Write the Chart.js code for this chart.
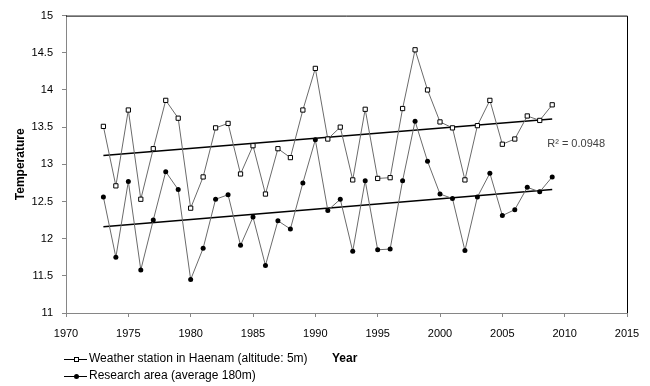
<!DOCTYPE html>
<html>
<head>
<meta charset="utf-8">
<script src="https://cdn.jsdelivr.net/npm/chart.js@4.4.0/dist/chart.umd.min.js"></script>
<style>
  html, body { margin: 0; padding: 0; background: #fff; }
  #wrap { width: 650px; height: 386px; }
</style>
</head>
<body>
<div id="wrap"><canvas id="chart" width="650" height="386"></canvas></div>
<script>
const years = [1973, 1974, 1975, 1976, 1977, 1978, 1979, 1980, 1981, 1982, 1983, 1984, 1985,
  1986, 1987, 1988, 1989, 1990, 1991, 1992, 1993, 1994, 1995, 1996, 1997, 1998, 1999, 2000,
  2001, 2002, 2003, 2004, 2005, 2006, 2007, 2008, 2009];

const haenam = [13.51, 12.71, 13.73, 12.53, 13.21, 13.86, 13.62, 12.41, 12.83, 13.49, 13.55, 12.87, 13.25,
  12.60, 13.21, 13.09, 13.73, 14.29, 13.34, 13.50, 12.79, 13.74, 12.81, 12.82, 13.75, 14.54, 14.00, 13.57,
  13.49, 12.79, 13.52, 13.86, 13.27, 13.34, 13.65, 13.59, 13.80];

const research = [12.56, 11.75, 12.77, 11.58, 12.25, 12.90, 12.66, 11.45, 11.87, 12.53, 12.59, 11.91, 12.29,
  11.64, 12.24, 12.13, 12.75, 13.33, 12.38, 12.53, 11.83, 12.78, 11.85, 11.86, 12.78, 13.58, 13.04, 12.60,
  12.54, 11.84, 12.56, 12.88, 12.31, 12.39, 12.69, 12.63, 12.83];

// trend line end points
const trendYears = [1973, 2009];
const haenamTrend = [13.12, 13.61];
const researchTrend = [12.16, 12.66];

const seriesNames = ["Weather station in Haenam (altitude: 5m)", "Research area (average 180m)"];
const r2Label = "R\u00B2 = 0.0948";

const FONT = "'Liberation Sans', Arial, sans-serif";

function pts(xs, ys) {
  return xs.map((x, i) => ({ x: x, y: ys[i] }));
}

const extras = {
  id: "extras",
  afterDraw(chart) {
    const ctx = chart.ctx;
    const a = chart.chartArea;
    const xs = chart.scales.x;
    const ys = chart.scales.y;
    ctx.save();

    // black frame on top and right
    ctx.strokeStyle = "#000";
    ctx.lineWidth = 1;
    ctx.beginPath();
    ctx.moveTo(a.left, a.top + 0.5);
    ctx.lineTo(a.right + 0.5, a.top + 0.5);
    ctx.lineTo(a.right + 0.5, a.bottom);
    ctx.stroke();

    // R² label
    ctx.fillStyle = "#404040";
    ctx.font = "11px " + FONT;
    ctx.textBaseline = "middle";
    ctx.fillText(r2Label, xs.getPixelForValue(2008.6), ys.getPixelForValue(13.27));

    // legend
    const rows = [359, 376];
    rows.forEach((y, i) => {
      ctx.strokeStyle = "#000";
      ctx.lineWidth = 1;
      ctx.beginPath();
      ctx.moveTo(64, y + 0.5);
      ctx.lineTo(87, y + 0.5);
      ctx.stroke();
      if (i === 0) {
        ctx.fillStyle = "#fff";
        ctx.fillRect(74, y - 2, 5, 5);
        ctx.strokeRect(74.5, y - 1.5, 4, 4);
      } else {
        ctx.fillStyle = "#000";
        ctx.beginPath();
        ctx.arc(76.5, y + 0.5, 2.5, 0, Math.PI * 2);
        ctx.fill();
      }
      ctx.fillStyle = "#000";
      ctx.font = "12px " + FONT;
      ctx.textBaseline = "middle";
      ctx.fillText(seriesNames[i], 89, y);
    });

    // x axis title
    ctx.font = "bold 12px " + FONT;
    ctx.fillText("Year", 332, 359);
    ctx.restore();
  }
};

new Chart(document.getElementById("chart"), {
  type: "line",
  data: {
    datasets: [
      {
        label: seriesNames[0],
        data: pts(years, haenam),
        borderColor: "#6b6b6b",
        borderWidth: 1,
        pointStyle: "rect",
        pointRadius: 3,
        pointBackgroundColor: "#fff",
        pointBorderColor: "#000",
        pointBorderWidth: 1,
        tension: 0
      },
      {
        label: seriesNames[1],
        data: pts(years, research),
        borderColor: "#6b6b6b",
        borderWidth: 1,
        pointStyle: "circle",
        pointRadius: 2.5,
        pointBackgroundColor: "#000",
        pointBorderColor: "#000",
        pointBorderWidth: 0,
        tension: 0
      },
      {
        label: "trend1",
        data: pts(trendYears, haenamTrend),
        borderColor: "#000",
        borderWidth: 1.5,
        pointRadius: 0
      },
      {
        label: "trend2",
        data: pts(trendYears, researchTrend),
        borderColor: "#000",
        borderWidth: 1.5,
        pointRadius: 0
      }
    ]
  },
  options: {
    responsive: false,
    animation: false,
    layout: { padding: { top: 11, right: 23, left: 0, bottom: 0 } },
    plugins: {
      legend: { display: false },
      tooltip: { enabled: false }
    },
    scales: {
      x: {
        type: "linear",
        min: 1970,
        max: 2015,
        afterFit(scale) { scale.height = 73; },
        border: { color: "#868686" },
        grid: { drawOnChartArea: false, drawTicks: true, tickLength: 4, color: "#868686" },
        ticks: {
          stepSize: 5,
          color: "#000",
          font: { family: FONT, size: 11 },
          padding: 10,
          maxRotation: 0,
          callback: (v) => v
        }
      },
      y: {
        min: 11,
        max: 15,
        afterFit(scale) { scale.width = 66; },
        border: { color: "#868686" },
        grid: { drawOnChartArea: false, drawTicks: true, tickLength: 4, color: "#868686" },
        title: {
          display: true,
          text: "Temperature",
          color: "#000",
          font: { family: FONT, size: 12, weight: "bold" },
          padding: { top: 13, bottom: 4 }
        },
        ticks: {
          stepSize: 0.5,
          color: "#000",
          font: { family: FONT, size: 11 },
          padding: 9,
          callback: (v) => String(v)
        }
      }
    }
  },
  plugins: [extras]
});
</script>
</body>
</html>
